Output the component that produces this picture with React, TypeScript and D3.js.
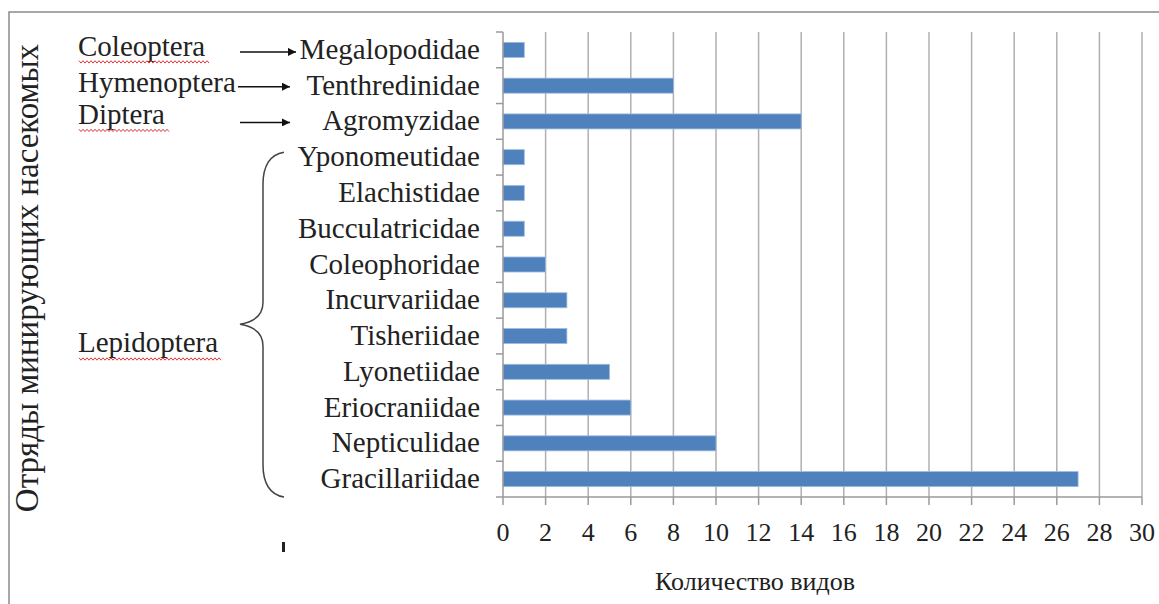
import React from "react";
import * as d3 from "d3";

const families = [
  "Megalopodidae",
  "Tenthredinidae",
  "Agromyzidae",
  "Yponomeutidae",
  "Elachistidae",
  "Bucculatricidae",
  "Coleophoridae",
  "Incurvariidae",
  "Tisheriidae",
  "Lyonetiidae",
  "Eriocraniidae",
  "Nepticulidae",
  "Gracillariidae",
];
const speciesCounts = [1, 8, 14, 1, 1, 1, 2, 3, 3, 5, 6, 10, 27];
const xTicks = [0, 2, 4, 6, 8, 10, 12, 14, 16, 18, 20, 22, 24, 26, 28, 30];
const orders = ["Coleoptera", "Hymenoptera", "Diptera", "Lepidoptera"];
const xTitle = "Количество видов";
const yTitle = "Отряды минирующих насекомых";

const W = 1159;
const H = 604;
const X0 = 503;
const X1 = 1142;
const Y0 = 32;
const Y1 = 497;
const FONT = "Liberation Serif, DejaVu Serif, serif";
const BAR = "#4F81BD";
const GRID = "#b0b0b0";
const AXIS = "#9a9a9a";

function wavy(x0: number, x1: number, y: number) {
  const pts: [number, number][] = [];
  for (let x = x0, i = 0; x <= x1; x += 2, i++) {
    pts.push([x, y + (i % 2 === 0 ? -1.2 : 1.2)]);
  }
  return d3.line()(pts) || "";
}

export default function App() {
  const x = d3.scaleLinear().domain([0, 30]).range([X0, X1]);
  const y = d3.scaleBand<string>().domain(families).range([Y0, Y1]).paddingInner(0.58).paddingOuter(0.29);
  const band = (Y1 - Y0) / families.length;
  const boundaries = d3.range(families.length + 1).map((i) => Y0 + i * band);

  const yc = (name: string) => (y(name) as number) + y.bandwidth() / 2;

  const orderRows: { label: string; family: string; x: number; dy: number }[] = [
    { label: orders[0], family: "Megalopodidae", x: 78, dy: 6 },
    { label: orders[1], family: "Tenthredinidae", x: 78, dy: 6 },
    { label: orders[2], family: "Agromyzidae", x: 78, dy: 3 },
  ];

  const arrowRows = [
    { family: "Megalopodidae", x0: 240, x1: 296, dy: 2 },
    { family: "Tenthredinidae", x0: 238, x1: 290, dy: 1 },
    { family: "Agromyzidae", x0: 240, x1: 290, dy: 1 },
  ];

  const braceTop = yc("Yponomeutidae") - 5;
  const braceBot = Y1;
  const braceMid = yc("Incurvariidae") + 24;
  const bx = 263;
  const bracePath =
    `M 284 ${braceTop} C 270 ${braceTop + 2}, ${bx} ${braceTop + 14}, ${bx} ${braceTop + 32}` +
    ` L ${bx} ${braceMid - 22} C ${bx} ${braceMid - 8}, 252 ${braceMid - 2}, 240 ${braceMid}` +
    ` C 252 ${braceMid + 2}, ${bx} ${braceMid + 8}, ${bx} ${braceMid + 22}` +
    ` L ${bx} ${braceBot - 32} C ${bx} ${braceBot - 14}, 270 ${braceBot - 2}, 284 ${braceBot}`;

  return (
    <svg width={W} height={H} style={{ position: "absolute", left: 0, top: 0, background: "#fff" }}>
      <defs>
        <marker id="arr" viewBox="0 0 10 10" refX="10" refY="5" markerWidth="10" markerHeight="8" markerUnits="userSpaceOnUse" orient="auto">
          <path d="M0,0 L10,5 L0,10 z" fill="#111" />
        </marker>
      </defs>
      <rect x={0} y={0} width={W} height={H} fill="#fff" />
      <path d={`M 9 ${H} V 12 H ${W}`} fill="none" stroke="#8a8a8a" strokeWidth={1.5} />

      {xTicks.filter((t) => t > 0).map((t) => (
        <line key={"g" + t} x1={x(t)} x2={x(t)} y1={Y0} y2={Y1} stroke={GRID} strokeWidth={1.5} />
      ))}

      {families.map((f, i) => (
        <rect key={f} x={x(0)} y={y(f)} width={x(speciesCounts[i]) - x(0)} height={y.bandwidth()} fill={BAR} stroke="#9dbbe0" strokeWidth={0.8} />
      ))}

      <line x1={X0} x2={X0} y1={Y0} y2={Y1} stroke={AXIS} strokeWidth={1.5} />
      <line x1={X0} x2={X1} y1={Y1} y2={Y1} stroke={AXIS} strokeWidth={1.5} />
      {boundaries.map((b, i) => (
        <line key={"yt" + i} x1={X0 - 7} x2={X0} y1={b} y2={b} stroke={AXIS} strokeWidth={1.5} />
      ))}
      {xTicks.map((t) => (
        <line key={"xt" + t} x1={x(t)} x2={x(t)} y1={Y1} y2={Y1 + 8} stroke={AXIS} strokeWidth={1.5} />
      ))}

      {xTicks.map((t) => (
        <text key={"xl" + t} x={x(t)} y={541} textAnchor="middle" style={{ fontFamily: FONT }} fontSize={26} fill="#222">
          {t}
        </text>
      ))}

      {families.map((f) => (
        <text key={"yl" + f} x={480} y={yc(f) + 9} textAnchor="end" style={{ fontFamily: FONT }} fontSize={29} fill="#222">
          {f}
        </text>
      ))}

      {orderRows.map((o) => (
        <text key={o.label} x={o.x} y={yc(o.family) + o.dy} style={{ fontFamily: FONT }} fontSize={29} fill="#222">
          {o.label}
        </text>
      ))}
      <text x={78} y={352} style={{ fontFamily: FONT }} fontSize={29} fill="#222">{orders[3]}</text>

      <path d={wavy(79, 210, yc("Megalopodidae") + 12)} fill="none" stroke="#e03a3a" strokeWidth={1} />
      <path d={wavy(79, 170, yc("Agromyzidae") + 9)} fill="none" stroke="#e03a3a" strokeWidth={1} />
      <path d={wavy(79, 222, 359)} fill="none" stroke="#e03a3a" strokeWidth={1} />

      {arrowRows.map((a) => (
        <line key={"a" + a.family} x1={a.x0} x2={a.x1} y1={yc(a.family) + a.dy} y2={yc(a.family) + a.dy} stroke="#111" strokeWidth={1.5} markerEnd="url(#arr)" />
      ))}

      <path d={bracePath} fill="none" stroke="#444" strokeWidth={1.5} />
      <rect x={282} y={542} width={3} height={10} fill="#222" />

      <text x={755} y={590} textAnchor="middle" style={{ fontFamily: FONT }} fontSize={26} fill="#222">{xTitle}</text>
      <text transform={`translate(38, 278) rotate(-90)`} textAnchor="middle" style={{ fontFamily: FONT }} fontSize={33} fill="#222">{yTitle}</text>
    </svg>
  );
}
